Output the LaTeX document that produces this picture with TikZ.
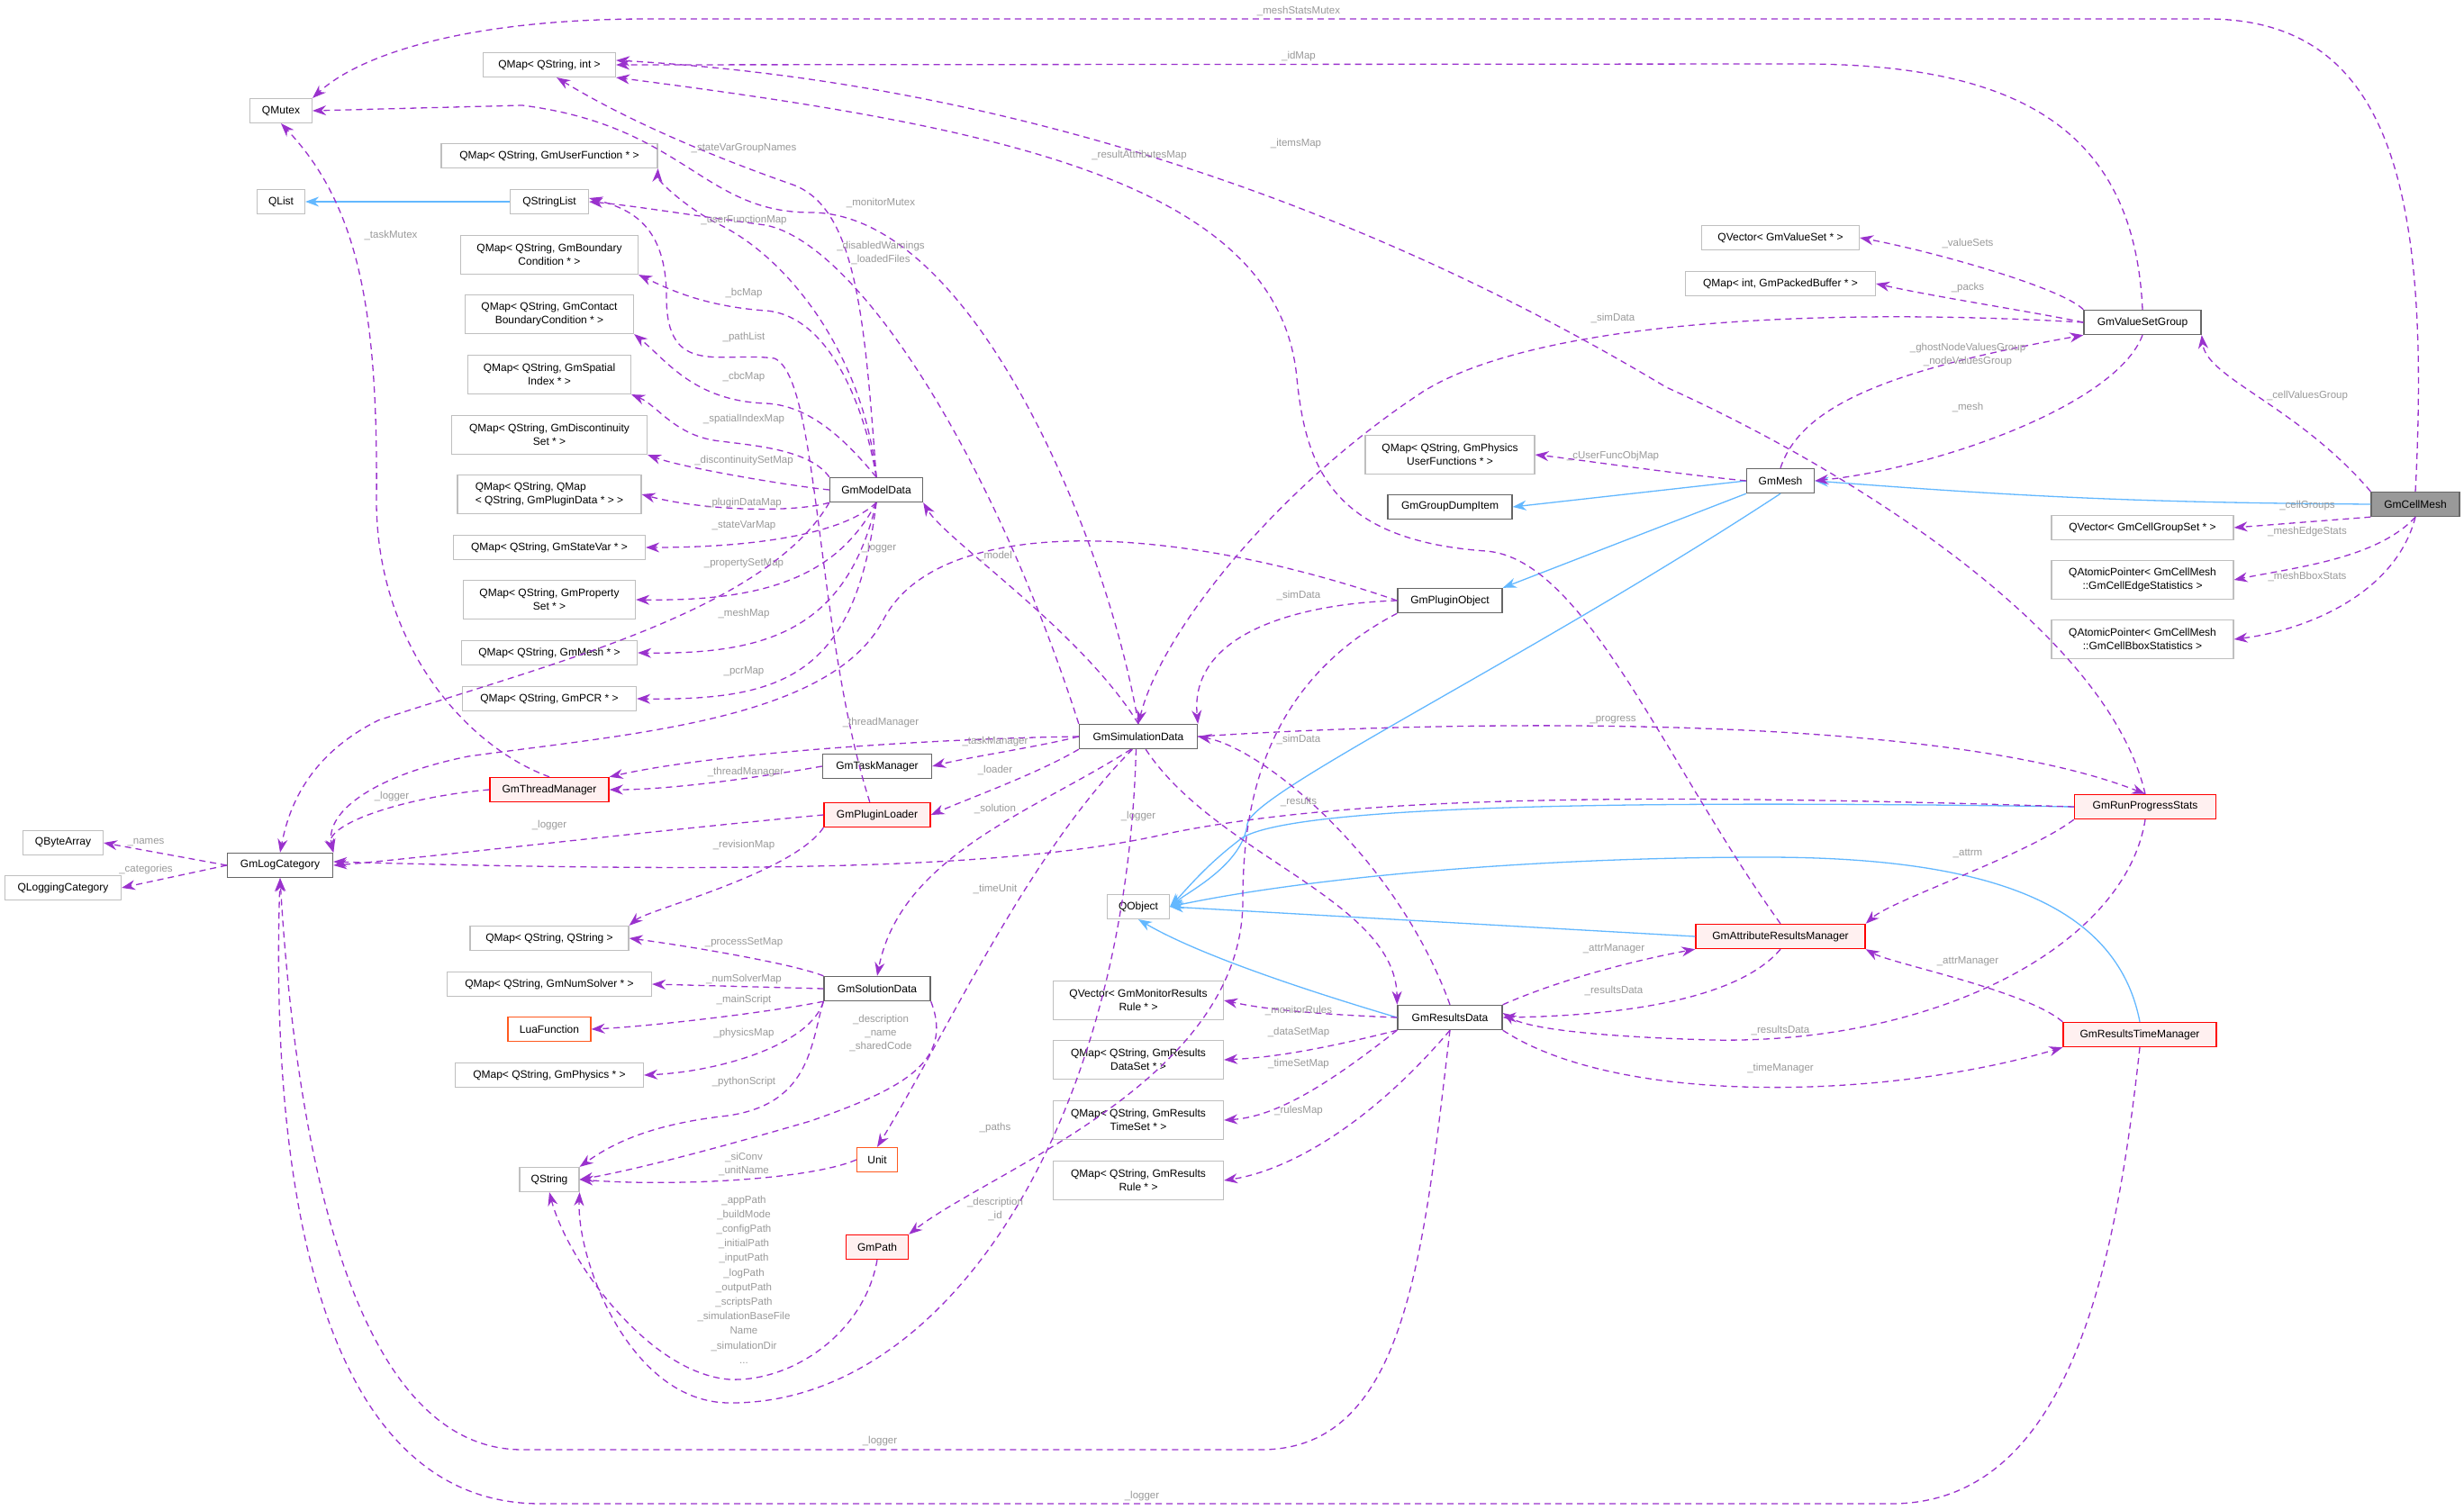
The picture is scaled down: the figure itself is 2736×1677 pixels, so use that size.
\documentclass[tikz,border=0pt]{standalone}
\usepackage{fontspec}
\setmainfont{Liberation Sans}
\usetikzlibrary{arrows.meta}
\definecolor{pu}{HTML}{9A32CD}
\definecolor{bl}{HTML}{63B8FF}
\definecolor{lg}{HTML}{9A9A9A}
\definecolor{lb}{HTML}{BFBFBF}
\definecolor{db}{HTML}{666666}
\definecolor{rf}{HTML}{FFF0F0}
\definecolor{or}{HTML}{FF5A1F}
\begin{document}
\begin{tikzpicture}[x=1pt,y=-1pt,
  every node/.style={font=\fontsize{12}{15}\selectfont, inner sep=2pt},
  ext/.style={draw=lb, line width=1.2pt, minimum height=27pt, fill=white, align=center},
  doc/.style={draw=db, line width=1.4pt, minimum height=27pt, fill=white},
  red/.style={draw=red, line width=1.4pt, minimum height=27pt, fill=rf},
  ora/.style={draw=or, line width=1.2pt, minimum height=27pt, fill=white},
  two/.style={minimum height=43pt},
  lab/.style={font=\fontsize{11.5}{15}\selectfont, text=lg, align=center, inner sep=0pt},
  u/.style={draw=pu, dash pattern=on 7pt off 5pt, line width=1.3pt, -{Stealth[length=15pt,width=11pt]}},
  b/.style={draw=bl, line width=1.3pt, -{Stealth[length=15pt,width=11pt]}}]
\useasboundingbox (0,0) rectangle (2736,1677);
\fill[white] (0,0) rectangle (2736,1677);
% ---- nodes
\node[ext,minimum width=69pt] (QMutex) at (312,123) {QMutex};
\node[ext,minimum width=147pt] (QMapInt) at (610,72) {QMap< QString, int >};
\node[ext,minimum width=240pt] (QMapUF) at (610,173) {QMap< QString, GmUserFunction * >};
\node[ext,minimum width=53pt] (QList) at (312,224) {QList};
\node[ext,minimum width=87pt] (QStringList) at (610,224) {QStringList};
\node[ext,two,minimum width=197pt] (QMapBC) at (610,283) {QMap< QString, GmBoundary\\Condition * >};
\node[ext,two,minimum width=187pt] (QMapCBC) at (610,349) {QMap< QString, GmContact\\BoundaryCondition * >};
\node[ext,two,minimum width=181pt] (QMapSI) at (610,416) {QMap< QString, GmSpatial\\Index * >};
\node[ext,two,minimum width=217pt] (QMapDS) at (610,483) {QMap< QString, GmDiscontinuity\\Set * >};
\node[ext,two,minimum width=204pt,align=left] (QMapPD) at (610,549) {QMap< QString, QMap\\< QString, GmPluginData * > >};
\node[ext,minimum width=213pt] (QMapSV) at (610,608) {QMap< QString, GmStateVar * >};
\node[ext,two,minimum width=191pt] (QMapPS) at (610,666) {QMap< QString, GmProperty\\Set * >};
\node[ext,minimum width=195pt] (QMapMesh) at (610,725) {QMap< QString, GmMesh * >};
\node[ext,minimum width=193pt] (QMapPCR) at (610,776) {QMap< QString, GmPCR * >};
\node[doc,minimum width=103pt] (GmModelData) at (973,544) {GmModelData};
\node[red,minimum width=132pt] (GmThreadManager) at (610,877) {GmThreadManager};
\node[doc,minimum width=121pt] (GmTaskManager) at (974,851) {GmTaskManager};
\node[red,minimum width=118pt] (GmPluginLoader) at (974,905) {GmPluginLoader};
\node[ext,minimum width=89pt] (QByteArray) at (70,936) {QByteArray};
\node[ext,minimum width=129pt] (QLoggingCategory) at (70,986) {QLoggingCategory};
\node[doc,minimum width=117pt] (GmLogCategory) at (311,961) {GmLogCategory};
\node[ext,minimum width=176pt] (QMapSS) at (610,1042) {QMap< QString, QString >};
\node[ext,minimum width=227pt] (QMapNS) at (610,1093) {QMap< QString, GmNumSolver * >};
\node[ora,minimum width=92pt] (LuaFunction) at (610,1143) {LuaFunction};
\node[ext,minimum width=209pt] (QMapPhys) at (610,1194) {QMap< QString, GmPhysics * >};
\node[doc,minimum width=118pt] (GmSolutionData) at (974,1098) {GmSolutionData};
\node[ext,minimum width=66pt] (QString) at (610,1310) {QString};
\node[ora,minimum width=45pt] (Unit) at (974,1288) {Unit};
\node[red,minimum width=69pt] (GmPath) at (974,1385) {GmPath};
\node[doc,minimum width=131pt] (GmSimulationData) at (1264,818) {GmSimulationData};
\node[ext,minimum width=69pt] (QObject) at (1264,1007) {QObject};
\node[doc,minimum width=116pt] (GmResultsData) at (1610,1130) {GmResultsData};
\node[ext,two,minimum width=189pt] (QVecMon) at (1264,1111) {QVector< GmMonitorResults\\Rule * >};
\node[ext,two,minimum width=189pt] (QMapDataSet) at (1264,1177) {QMap< QString, GmResults\\DataSet * >};
\node[ext,two,minimum width=189pt] (QMapTimeSet) at (1264,1244) {QMap< QString, GmResults\\TimeSet * >};
\node[ext,two,minimum width=189pt] (QMapRule) at (1264,1311) {QMap< QString, GmResults\\Rule * >};
\node[red,minimum width=188pt] (GmARM) at (1977,1040) {GmAttributeResultsManager};
\node[red,minimum width=157pt] (GmRPS) at (2382,896) {GmRunProgressStats};
\node[red,minimum width=170pt] (GmRTM) at (2376,1149) {GmResultsTimeManager};
\node[ext,minimum width=175pt] (QVecVS) at (1977,264) {QVector< GmValueSet * >};
\node[ext,minimum width=211pt] (QMapPB) at (1977,315) {QMap< int, GmPackedBuffer * >};
\node[doc,minimum width=130pt] (GmVSG) at (2379,358) {GmValueSetGroup};
\node[ext,two,minimum width=188pt] (QMapPUF) at (1610,505) {QMap< QString, GmPhysics\\UserFunctions * >};
\node[doc,minimum width=75pt] (GmMesh) at (1977,534) {GmMesh};
\node[doc,minimum width=138pt] (GmGroupDumpItem) at (1610,563) {GmGroupDumpItem};
\node[doc,minimum width=116pt] (GmPluginObject) at (1610,667) {GmPluginObject};
\node[draw=db,line width=1.4pt,minimum height=27pt,fill=black!40,minimum width=98pt] (GmCellMesh) at (2682,560) {GmCellMesh};
\node[ext,minimum width=202pt] (QVecCGS) at (2379,586) {QVector< GmCellGroupSet * >};
\node[ext,two,minimum width=202pt] (QAPEdge) at (2379,644) {QAtomicPointer< GmCellMesh\\::GmCellEdgeStatistics >};
\node[ext,two,minimum width=202pt] (QAPBbox) at (2379,710) {QAtomicPointer< GmCellMesh\\::GmCellBboxStatistics >};
% ---- inheritance
\draw[b] (QStringList.west) -- (QList.east);
\draw[b] (GmCellMesh.west) to[bend left=2] (GmMesh.east);
\draw[b] (GmMesh.west) -- (GmGroupDumpItem.east);
\draw[b] (GmMesh.south west) -- (GmPluginObject.north east);
\draw[b] (GmMesh.south) .. controls (1700,730) and (1390,880) .. (1385,915) .. controls (1380,960) and (1320,990) .. (QObject.east);
\draw[b] (GmRPS.west) .. controls (1900,890) and (1450,890) .. (1380,930) .. controls (1340,960) and (1320,985) .. (QObject.east);
\draw[b] (GmRTM.north) .. controls (2350,1000) and (2200,952) .. (1960,952) .. controls (1700,952) and (1450,975) .. (QObject.east);
\draw[b] (GmARM.west) -- (QObject.east);
\draw[b] (GmResultsData.west) .. controls (1450,1100) and (1330,1060) .. (QObject.south);
% ---- usage
\draw[u] (GmCellMesh.north) .. controls (2700,200) and (2650,21) .. (2450,21) -- (720,21) .. controls (520,21) and (400,60) .. (QMutex.north east);
\node[lab] (l1) at (1442,12) {\_meshStatsMutex};
\draw[u] (GmVSG.north) .. controls (2370,150) and (2250,71) .. (2000,71) -- (QMapInt.east);
\node[lab] (l2) at (1442,63) {\_idMap};
\draw[u] (GmRPS.north) .. controls (2340,700) and (2050,520) .. (1850,430) .. controls (1500,220) and (1100,90) .. ([yshift=5pt]QMapInt.east);
\node[lab] (l3) at (1439,160) {\_itemsMap};
\draw[u] (GmARM.north) .. controls (1850,850) and (1760,620) .. (1650,612) .. controls (1480,600) and (1450,520) .. (1440,420) .. controls (1420,200) and (1100,140) .. (QMapInt.south east);
\node[lab] (l4) at (1265,173) {\_resultAttributesMap};
\draw[u] (GmModelData.north) .. controls (960,350) and (950,230) .. (880,205) .. controls (780,170) and (690,130) .. (QMapInt.-60);
\node[lab] (l5) at (826,165) {\_stateVarGroupNames};
\draw[u] (GmSimulationData.north) .. controls (1230,600) and (1080,236) .. (900,236) .. controls (780,236) and (760,140) .. (580,117) -- (QMutex.east);
\node[lab] (l6) at (978,225) {\_monitorMutex};
\draw[u] (GmSimulationData.north west) .. controls (1100,500) and (950,270) .. (850,250) .. controls (760,238) and (700,228) .. (QStringList.east);
\node[lab] (l7) at (978,281) {\_disabledWarnings\\\_loadedFiles};
\draw[u] (GmModelData.north) .. controls (960,400) and (880,290) .. (800,250) .. controls (760,230) and (730,200) .. (QMapUF.south east);
\node[lab] (l8) at (826,245) {\_userFunctionMap};
\draw[u] (GmPluginLoader.120) .. controls (905,700) and (910,420) .. (860,398) .. controls (800,390) and (740,420) .. (740,330) .. controls (740,250) and (700,232) .. ([yshift=4pt]QStringList.east);
\node[lab] (l9) at (826,375) {\_pathList};
\draw[u] (GmModelData.north) .. controls (960,450) and (920,350) .. (850,345) .. controls (780,340) and (740,320) .. (QMapBC.south east);
\node[lab] (l10) at (826,326) {\_bcMap};
\draw[u] (GmModelData.north) .. controls (940,490) and (900,450) .. (850,448) .. controls (770,445) and (740,400) .. (QMapCBC.south east);
\node[lab] (l11) at (826,419) {\_cbcMap};
\draw[u] (GmModelData.north west) .. controls (900,500) and (840,495) .. (800,490) .. controls (750,485) and (730,450) .. (QMapSI.south east);
\node[lab] (l12) at (826,466) {\_spatialIndexMap};
\draw[u] (GmModelData.west) .. controls (880,540) and (760,520) .. (QMapDS.south east);
\node[lab] (l13) at (826,512) {\_discontinuitySetMap};
\draw[u] (GmModelData.south west) .. controls (880,570) and (780,567) .. (QMapPD.east);
\node[lab] (l14) at (826,559) {\_pluginDataMap};
\draw[u] (GmModelData.south) .. controls (940,590) and (850,608) .. (QMapSV.east);
\node[lab] (l15) at (826,584) {\_stateVarMap};
\draw[u] (GmModelData.south) .. controls (930,640) and (850,668) .. (QMapPS.east);
\node[lab] (l16) at (826,626) {\_propertySetMap};
\draw[u] (GmModelData.south) .. controls (940,700) and (850,727) .. (QMapMesh.east);
\node[lab] (l17) at (826,682) {\_meshMap};
\draw[u] (GmModelData.south) .. controls (950,750) and (870,778) .. (QMapPCR.east);
\node[lab] (l18) at (826,746) {\_pcrMap};
\draw[u] (GmModelData.south west) .. controls (850,680) and (600,740) .. (420,800) .. controls (340,840) and (320,900) .. (GmLogCategory.north);
\draw[u] (GmPluginObject.west) .. controls (1300,580) and (1040,570) .. (980,690) .. controls (920,800) and (700,815) .. (520,840) .. controls (420,860) and (360,900) .. (GmLogCategory.north east);
\node[lab] (l19) at (976,609) {\_logger};
\draw[u] (GmThreadManager.north) .. controls (520,830) and (420,720) .. (418,560) .. controls (420,350) and (400,230) .. (QMutex.south);
\node[lab] (l20) at (434,261) {\_taskMutex};
\draw[u] (GmThreadManager.west) .. controls (450,885) and (360,915) .. (GmLogCategory.north east);
\node[lab] (l21) at (435,885) {\_logger};
\draw[u] (GmSimulationData.west) .. controls (1050,820) and (800,835) .. (GmThreadManager.north east);
\node[lab] (l22) at (978,803) {\_threadManager};
\draw[u] (GmTaskManager.west) .. controls (850,862) and (750,877) .. (GmThreadManager.east);
\node[lab] (l23) at (828,858) {\_threadManager};
\draw[u] (GmSimulationData.west) .. controls (1150,830) and (1080,840) .. (GmTaskManager.east);
\node[lab] (l24) at (1105,824) {\_taskManager};
\draw[u] (GmSimulationData.south west) .. controls (1150,860) and (1080,885) .. (GmPluginLoader.east);
\node[lab] (l25) at (1105,855) {\_loader};
\draw[u] (GmSimulationData.-120) .. controls (1150,900) and (1000,950) .. (GmSolutionData.north);
\node[lab] (l26) at (1105,898) {\_solution};
\draw[u] (GmSimulationData.north) .. controls (1200,700) and (1050,600) .. (GmModelData.south east);
\node[lab] (l27) at (1105,617) {\_model};
\draw[u] (GmSimulationData.-115) .. controls (1140,950) and (1050,1150) .. (Unit.north);
\node[lab] (l28) at (1105,987) {\_timeUnit};
\draw[u] (GmPluginObject.south west) .. controls (1400,760) and (1380,900) .. (1380,1000) .. controls (1380,1200) and (1100,1300) .. (GmPath.north east);
\node[lab] (l29) at (1105,1253) {\_paths};
\draw[u] (GmSimulationData.-100) .. controls (1250,1250) and (1050,1560) .. (810,1558) .. controls (700,1558) and (640,1400) .. (QString.south east);
\node[lab] (l30) at (1105,1343) {\_description\\\_id};
\draw[u] (GmPath.south) .. controls (960,1480) and (880,1535) .. (810,1532) .. controls (720,1525) and (630,1400) .. (QString.south);
\node[lab,font=\fontsize{11.5}{16.2}\selectfont] (l31) at (826,1421) {\_appPath\\\_buildMode\\\_configPath\\\_initialPath\\\_inputPath\\\_logPath\\\_outputPath\\\_scriptsPath\\\_simulationBaseFile\\Name\\\_simulationDir\\...};
\draw[u] (Unit.west) .. controls (900,1310) and (750,1318) .. (QString.east);
\node[lab] (l32) at (826,1293) {\_siConv\\\_unitName};
\draw[u] (GmSolutionData.south west) .. controls (900,1160) and (900,1230) .. (800,1240) .. controls (720,1250) and (680,1270) .. (QString.north east);
\node[lab] (l33) at (826,1202) {\_pythonScript};
\draw[u] (GmSolutionData.south east) .. controls (1060,1180) and (1000,1210) .. (900,1245) .. controls (780,1280) and (700,1300) .. (QString.east);
\node[lab] (l37) at (978,1147) {\_description\\\_name\\\_sharedCode};
\draw[u] (GmSolutionData.north west) .. controls (880,1070) and (760,1050) .. (QMapSS.east);
\node[lab] (l34) at (826,1047) {\_processSetMap};
\draw[u] (GmSolutionData.west) -- (QMapNS.east);
\node[lab] (l35) at (826,1088) {\_numSolverMap};
\draw[u] (GmSolutionData.south west) .. controls (850,1125) and (720,1140) .. (LuaFunction.east);
\node[lab] (l36) at (826,1111) {\_mainScript};
\draw[u] (GmSolutionData.south west) .. controls (900,1160) and (800,1190) .. (QMapPhys.east);
\node[lab] (l38) at (826,1148) {\_physicsMap};
\draw[u] (GmPluginLoader.south west) .. controls (880,970) and (720,1010) .. (QMapSS.north east);
\node[lab] (l39) at (826,939) {\_revisionMap};
\draw[u] (GmPluginLoader.west) .. controls (700,925) and (450,955) .. (GmLogCategory.east);
\node[lab] (l40) at (610,917) {\_logger};
\draw[u] (GmRPS.west) .. controls (1800,880) and (1500,885) .. (1300,925) .. controls (1150,960) and (900,972) .. ([yshift=4pt]GmLogCategory.east);
\node[lab] (l41) at (1264,907) {\_logger};
\draw[u] (GmLogCategory.west) -- (QByteArray.east);
\node[lab] (l42) at (162,936) {\_names};
\draw[u] (GmLogCategory.west) -- (QLoggingCategory.east);
\node[lab] (l43) at (162,966) {\_categories};
\draw[u] (GmResultsData.south) .. controls (1580,1400) and (1560,1610) .. (1400,1610) -- (580,1610) .. controls (400,1610) and (330,1300) .. (GmLogCategory.south);
\node[lab] (l44) at (977,1601) {\_logger};
\draw[u] (GmRTM.south) .. controls (2350,1400) and (2300,1670) .. (2100,1670) -- (600,1670) .. controls (350,1670) and (300,1300) .. (GmLogCategory.south);
\node[lab] (l45) at (1268,1662) {\_logger};
\draw[u] (GmResultsData.north) .. controls (1550,950) and (1400,830) .. (GmSimulationData.east);
\node[lab] (l46) at (1442,821) {\_simData};
\draw[u] (GmSimulationData.-60) .. controls (1350,950) and (1550,1000) .. (GmResultsData.north west);
\node[lab] (l47) at (1442,890) {\_results};
\draw[u] (GmSimulationData.east) .. controls (1600,800) and (2150,790) .. (GmRPS.north);
\node[lab] (l48) at (1791,800) {\_progress};
\draw[u] (GmPluginObject.west) .. controls (1450,670) and (1320,700) .. (GmSimulationData.north east);
\node[lab] (l49) at (1442,661) {\_simData};
\draw[u] (GmVSG.west) .. controls (2000,340) and (1700,360) .. (1580,435) .. controls (1420,540) and (1290,700) .. (GmSimulationData.north);
\node[lab] (l50) at (1791,353) {\_simData};
\draw[u] (GmVSG.north west) .. controls (2290,320) and (2150,280) .. (QVecVS.east);
\node[lab] (l51) at (2185,270) {\_valueSets};
\draw[u] (GmVSG.west) .. controls (2250,345) and (2150,330) .. (QMapPB.east);
\node[lab] (l52) at (2185,320) {\_packs};
\draw[u] (GmVSG.south) .. controls (2350,450) and (2150,520) .. (GmMesh.east);
\node[lab] (l53) at (2185,452) {\_mesh};
\draw[u] (GmMesh.north) .. controls (2000,450) and (2100,410) .. (GmVSG.south west);
\node[lab] (l54) at (2185,394) {\_ghostNodeValuesGroup\\\_nodeValuesGroup};
\draw[u] (GmMesh.west) .. controls (1850,525) and (1750,510) .. (QMapPUF.east);
\node[lab] (l55) at (1791,507) {\_cUserFuncObjMap};
\draw[u] (GmCellMesh.north west) .. controls (2550,450) and (2450,420) .. (GmVSG.south east);
\node[lab] (l56) at (2562,440) {\_cellValuesGroup};
\draw[u] (GmCellMesh.south west) -- (QVecCGS.east);
\node[lab] (l57) at (2562,562) {\_cellGroups};
\draw[u] (GmCellMesh.south) .. controls (2640,620) and (2550,630) .. (QAPEdge.east);
\node[lab] (l58) at (2562,591) {\_meshEdgeStats};
\draw[u] (GmCellMesh.south) .. controls (2660,660) and (2560,700) .. (QAPBbox.east);
\node[lab] (l59) at (2562,640) {\_meshBboxStats};
\draw[u] (GmResultsData.west) .. controls (1450,1126) and (1400,1120) .. (QVecMon.east);
\node[lab] (l60) at (1442,1122) {\_monitorRules};
\draw[u] (GmResultsData.south west) .. controls (1450,1170) and (1400,1175) .. (QMapDataSet.east);
\node[lab] (l61) at (1442,1147) {\_dataSetMap};
\draw[u] (GmResultsData.south west) .. controls (1480,1200) and (1420,1240) .. (QMapTimeSet.east);
\node[lab] (l62) at (1442,1182) {\_timeSetMap};
\draw[u] (GmResultsData.south) .. controls (1520,1250) and (1430,1300) .. (QMapRule.east);
\node[lab] (l63) at (1442,1234) {\_rulesMap};
\draw[u] (GmResultsData.north east) .. controls (1750,1080) and (1850,1060) .. (GmARM.south west);
\node[lab] (l64) at (1792,1054) {\_attrManager};
\draw[u] (GmARM.south) .. controls (1930,1110) and (1800,1128) .. (GmResultsData.east);
\node[lab] (l65) at (1792,1100) {\_resultsData};
\draw[u] (GmRPS.south west) .. controls (2250,950) and (2100,1000) .. (GmARM.north east);
\node[lab] (l66) at (2185,948) {\_attrm};
\draw[u] (GmRTM.north west) .. controls (2250,1100) and (2100,1070) .. (GmARM.south east);
\node[lab] (l67) at (2185,1068) {\_attrManager};
\draw[u] (GmRPS.south) .. controls (2360,1050) and (2150,1160) .. (1900,1155) .. controls (1800,1152) and (1700,1145) .. ([yshift=5pt]GmResultsData.east);
\node[lab] (l68) at (1977,1144) {\_resultsData};
\draw[u] (GmResultsData.south east) .. controls (1800,1230) and (2100,1220) .. (GmRTM.south west);
\node[lab] (l69) at (1977,1187) {\_timeManager};
\end{tikzpicture}
\end{document}
